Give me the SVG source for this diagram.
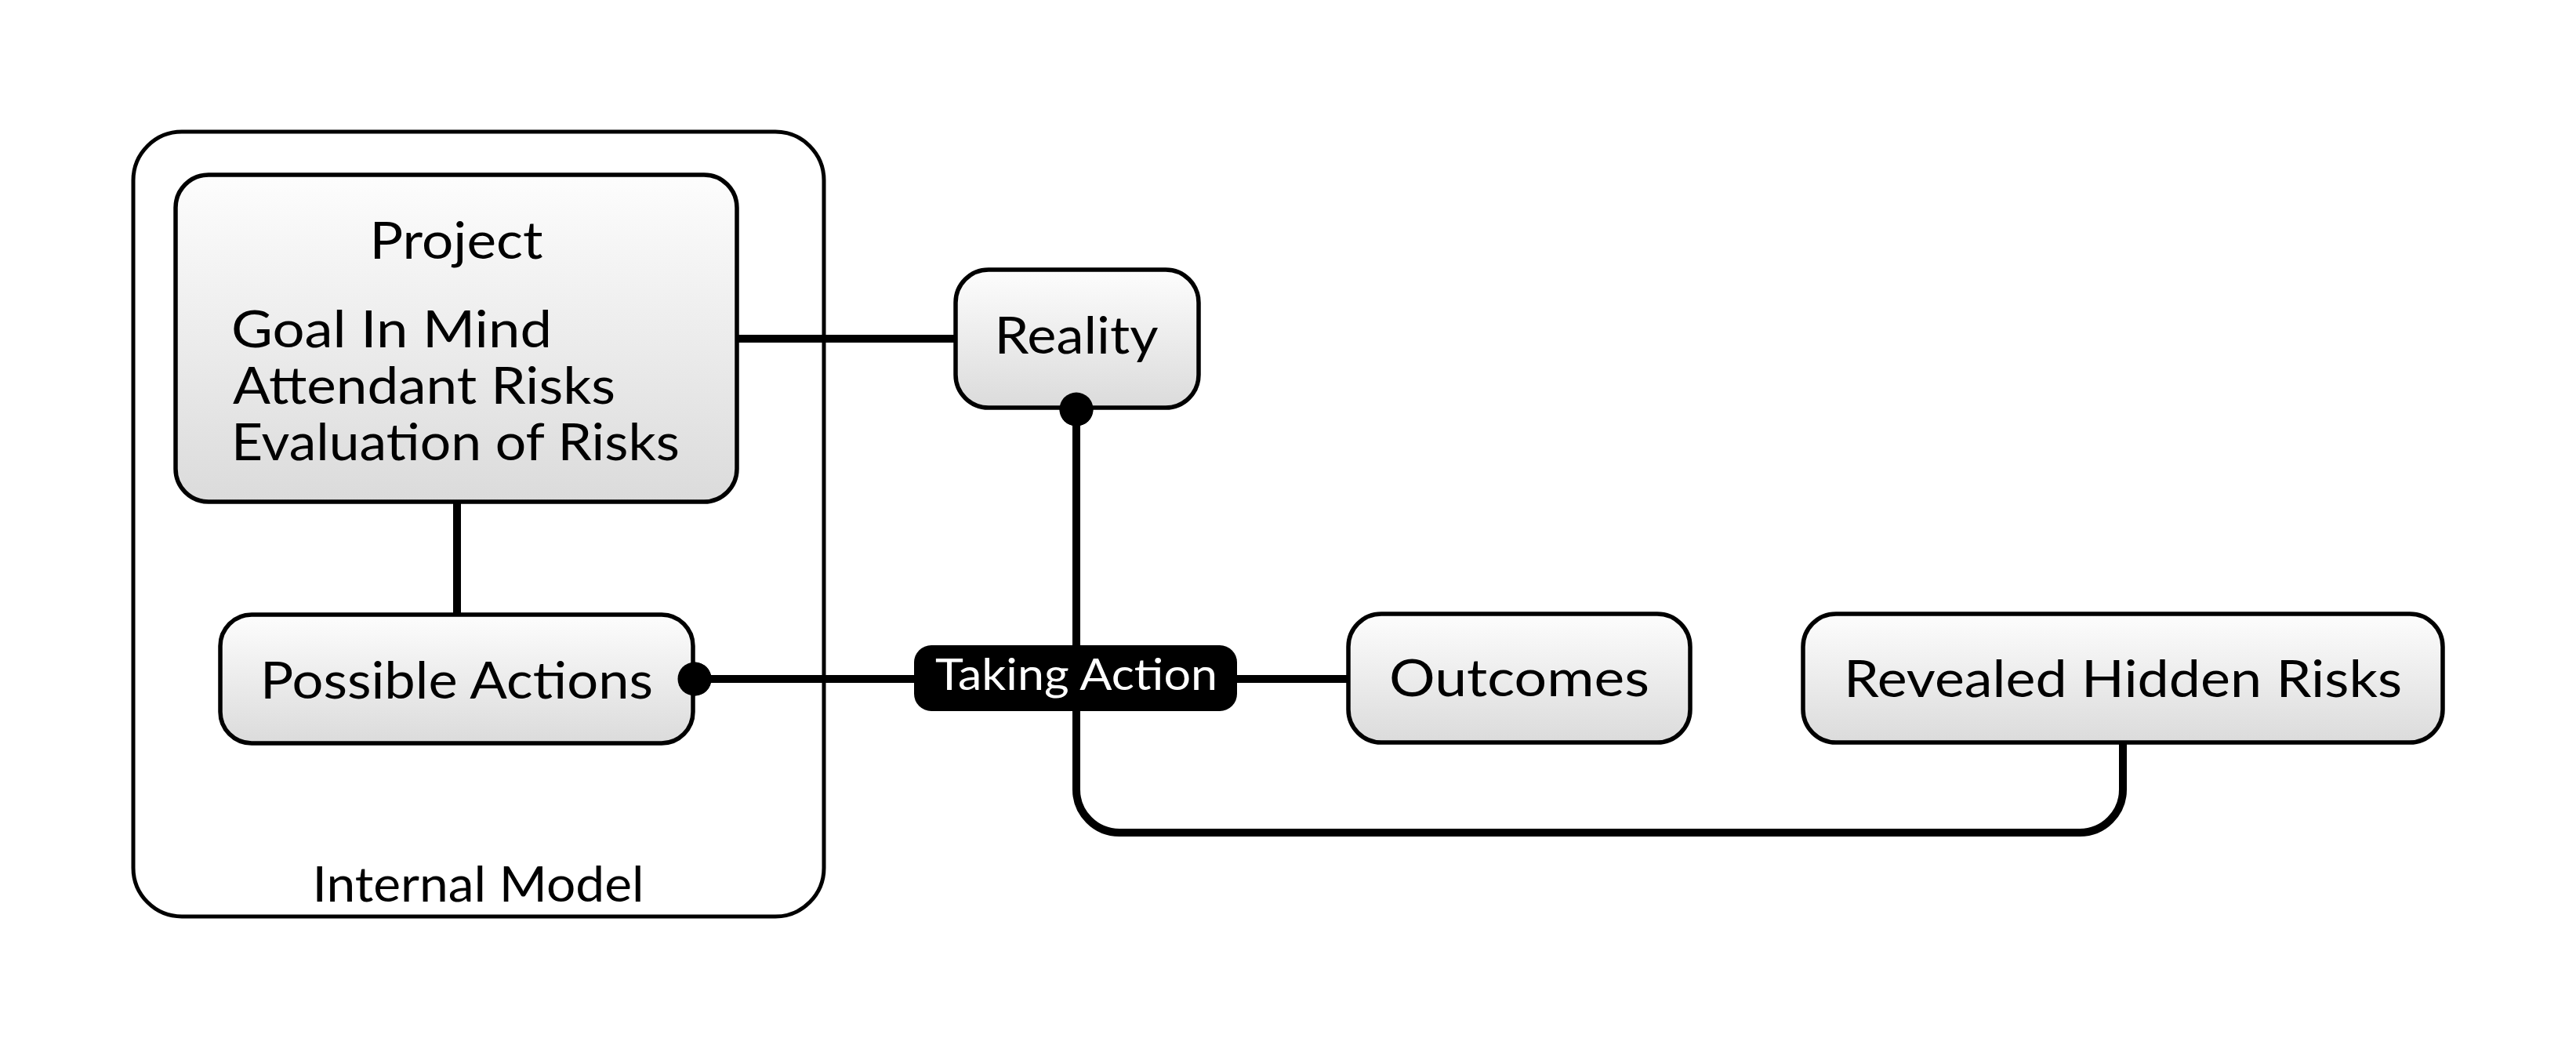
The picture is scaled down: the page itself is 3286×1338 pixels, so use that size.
<svg xmlns="http://www.w3.org/2000/svg" width="3286" height="1338" viewBox="0 0 3286 1338">
<style>
.box{fill:url(#g);stroke:#000;stroke-width:5.5}
.cont{fill:#fff;stroke:#000;stroke-width:5}
.t{font-family:"Lato","Liberation Sans",sans-serif;font-size:66px;fill:#000}
.c{text-anchor:middle}
.con{fill:none;stroke:#000;stroke-width:10}
</style>
<defs>
<linearGradient id="g" x1="0" y1="0" x2="0" y2="1">
<stop offset="0" stop-color="#fdfdfd"/>
<stop offset="1" stop-color="#dbdbdb"/>
</linearGradient>
<marker id="dot" markerUnits="userSpaceOnUse" markerWidth="50" markerHeight="50" refX="25" refY="25" orient="auto">
<circle cx="25" cy="25" r="21.5" fill="#000"/>
</marker>
</defs>
<rect width="3286" height="1338" fill="#fff"/>
<g id="internal-model">
<rect class="cont" x="170" y="168" width="881" height="1001" rx="62"/>
<text class="t c" x="610" y="1150" style="font-size:61px" textLength="423" lengthAdjust="spacingAndGlyphs">Internal Model</text>
</g>
<g id="connectors">
<path class="con" d="M940,432 H1219"/>
<path class="con" d="M583,640 V784"/>
<path class="con" d="M886,866 H1720" marker-start="url(#dot)"/>
<path class="con" d="M1373,522 V1007 A55,55 0 0 0 1428,1062 H2653 A55,55 0 0 0 2708,1007 V947" marker-start="url(#dot)"/>
</g>
<g id="project">
<rect class="box" x="224" y="223" width="716" height="417" rx="42"/>
<text class="t c" x="582" y="330" textLength="221" lengthAdjust="spacingAndGlyphs">Project</text>
<text class="t" x="295" y="443" textLength="409" lengthAdjust="spacingAndGlyphs">Goal In Mind</text>
<text class="t" x="297" y="515" textLength="488" lengthAdjust="spacingAndGlyphs">Attendant Risks</text>
<text class="t" x="295" y="587" textLength="572" lengthAdjust="spacingAndGlyphs">Evaluation of Risks</text>
</g>
<g id="possible-actions">
<rect class="box" x="281" y="784" width="603" height="164" rx="40"/>
<text class="t c" x="582.5" y="891" textLength="501" lengthAdjust="spacingAndGlyphs">Possible Actions</text>
</g>
<g id="reality">
<rect class="box" x="1219" y="344" width="310" height="176" rx="42"/>
<text class="t c" x="1373" y="451" textLength="209" lengthAdjust="spacingAndGlyphs">Reality</text>
</g>
<g id="outcomes">
<rect class="box" x="1720" y="783" width="436" height="164" rx="42"/>
<text class="t c" x="1938" y="888" textLength="332" lengthAdjust="spacingAndGlyphs">Outcomes</text>
</g>
<g id="revealed-hidden-risks">
<rect class="box" x="2300" y="783" width="816" height="164" rx="42"/>
<text class="t c" x="2708" y="889" textLength="712" lengthAdjust="spacingAndGlyphs">Revealed Hidden Risks</text>
</g>
<g id="dots">
<circle cx="886" cy="866" r="21.5" fill="#000"/>
<circle cx="1373" cy="522" r="21.5" fill="#000"/>
</g>
<g id="taking-action">
<rect x="1166" y="823" width="412" height="84" rx="22" fill="#000"/>
<text class="t c" x="1373" y="880" style="font-size:56px;fill:#fff" textLength="360" lengthAdjust="spacingAndGlyphs">Taking Action</text>
</g>
</svg>
